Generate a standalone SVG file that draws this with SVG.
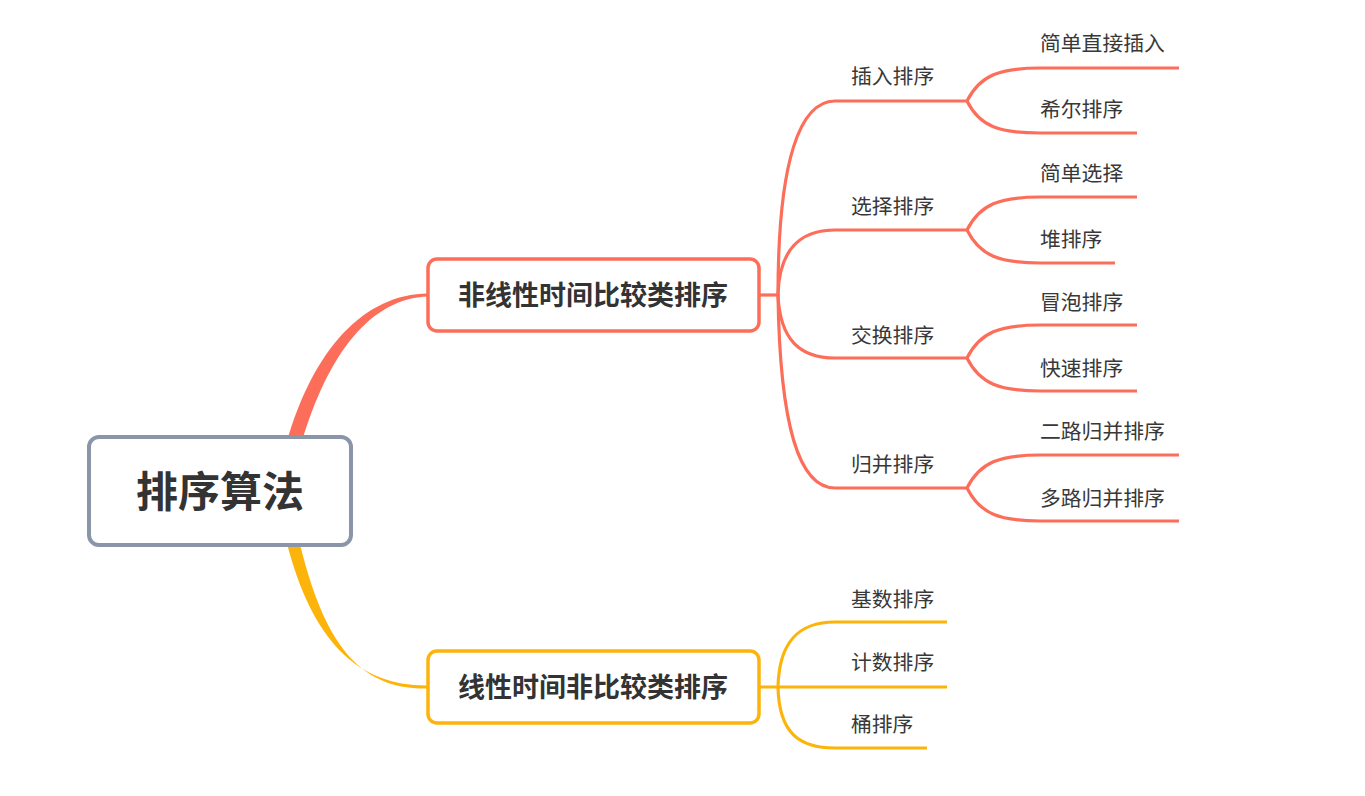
<svg xmlns="http://www.w3.org/2000/svg" width="1365" height="796" viewBox="0 0 1365 796">
<defs>
<style>
.bg{fill:#ffffff}
.c{fill:none;stroke:#FD6E5A;stroke-width:3.2;stroke-linecap:butt}
.y{fill:none;stroke:#FDB40A;stroke-width:3.2;stroke-linecap:butt}
.lbl{font-family:"Noto Sans CJK SC","Noto Sans",sans-serif;font-size:20.8px;fill:#383838}
.nt{font-family:"Noto Sans CJK SC","Noto Sans",sans-serif;font-size:27px;font-weight:bold;fill:#333333;text-anchor:middle}
.rt{font-family:"Noto Sans CJK SC","Noto Sans",sans-serif;font-size:42px;font-weight:bold;fill:#333333;text-anchor:middle}
</style>
</defs>
<rect class="bg" x="0" y="0" width="1365" height="796"/>
<g id="connectors">
  <path d="M286,445 C313,348 365,294 428,293.5 L428,296.5 C372,298 328,352 301,445 Z" fill="#FD6E5A"/>
  <path d="M286,540 C312,642 358,686 428,685.5 L428,688.5 C360,690 324,645 299,540 Z" fill="#FDB40A"/>
  <path class="c" d="M759,295 L778,295"/>
  <path class="c" d="M778,295 C778,160 800,101 835,101 L967,101"/>
  <path class="c" d="M778,295 C779,250 800,230 835,230 L967,230"/>
  <path class="c" d="M778,295 C780,340 800,358 835,358 L967,358"/>
  <path class="c" d="M778,295 C780,430 800,488 835,488 L967,488"/>
  <path class="c" d="M967,101 C980,75 1000,68 1040,68 L1179,68"/>
  <path class="c" d="M967,101 C980,127 1000,133 1040,133 L1137,133"/>
  <path class="c" d="M967,230 C980,204 1000,197 1040,197 L1137,197"/>
  <path class="c" d="M967,230 C980,256 1000,263 1040,263 L1115,263"/>
  <path class="c" d="M967,358 C980,332 1000,325 1040,325 L1137,325"/>
  <path class="c" d="M967,358 C980,384 1000,391 1040,391 L1137,391"/>
  <path class="c" d="M967,488 C980,462 1000,455 1040,455 L1179,455"/>
  <path class="c" d="M967,488 C980,514 1000,521 1040,521 L1179,521"/>
  <path class="y" d="M759,687 L947,687"/>
  <path class="y" d="M778,687 C779,640 800,622 835,622 L947,622"/>
  <path class="y" d="M778,687 C779,734 800,748 835,748 L927,748"/>
</g>
<g id="root">
  <rect x="89" y="437" width="262" height="108" rx="10" fill="#ffffff" stroke="#8A96A8" stroke-width="4"/>
  <text class="rt" x="220" y="507">排序算法</text>
</g>
<g id="n1">
  <rect x="428" y="259" width="331" height="72" rx="9" fill="#ffffff" stroke="#FD6E5A" stroke-width="3.5"/>
  <text class="nt" x="593" y="305">非线性时间比较类排序</text>
</g>
<g id="n2">
  <rect x="428" y="651" width="331" height="72" rx="9" fill="#ffffff" stroke="#FDB40A" stroke-width="3.5"/>
  <text class="nt" x="593" y="697">线性时间非比较类排序</text>
</g>
<g id="l-insert"><text class="lbl" x="851" y="84">插入排序</text></g>
<g id="l-direct"><text class="lbl" x="1040" y="51">简单直接插入</text></g>
<g id="l-shell"><text class="lbl" x="1040" y="117">希尔排序</text></g>
<g id="l-select"><text class="lbl" x="851" y="214">选择排序</text></g>
<g id="l-simplesel"><text class="lbl" x="1040" y="181">简单选择</text></g>
<g id="l-heap"><text class="lbl" x="1040" y="247">堆排序</text></g>
<g id="l-swap"><text class="lbl" x="851" y="343">交换排序</text></g>
<g id="l-bubble"><text class="lbl" x="1040" y="310">冒泡排序</text></g>
<g id="l-quick"><text class="lbl" x="1040" y="376">快速排序</text></g>
<g id="l-merge"><text class="lbl" x="851" y="472">归并排序</text></g>
<g id="l-2merge"><text class="lbl" x="1040" y="439">二路归并排序</text></g>
<g id="l-nmerge"><text class="lbl" x="1040" y="506">多路归并排序</text></g>
<g id="l-radix"><text class="lbl" x="851" y="607">基数排序</text></g>
<g id="l-count"><text class="lbl" x="851" y="670">计数排序</text></g>
<g id="l-bucket"><text class="lbl" x="851" y="732">桶排序</text></g>
</svg>
